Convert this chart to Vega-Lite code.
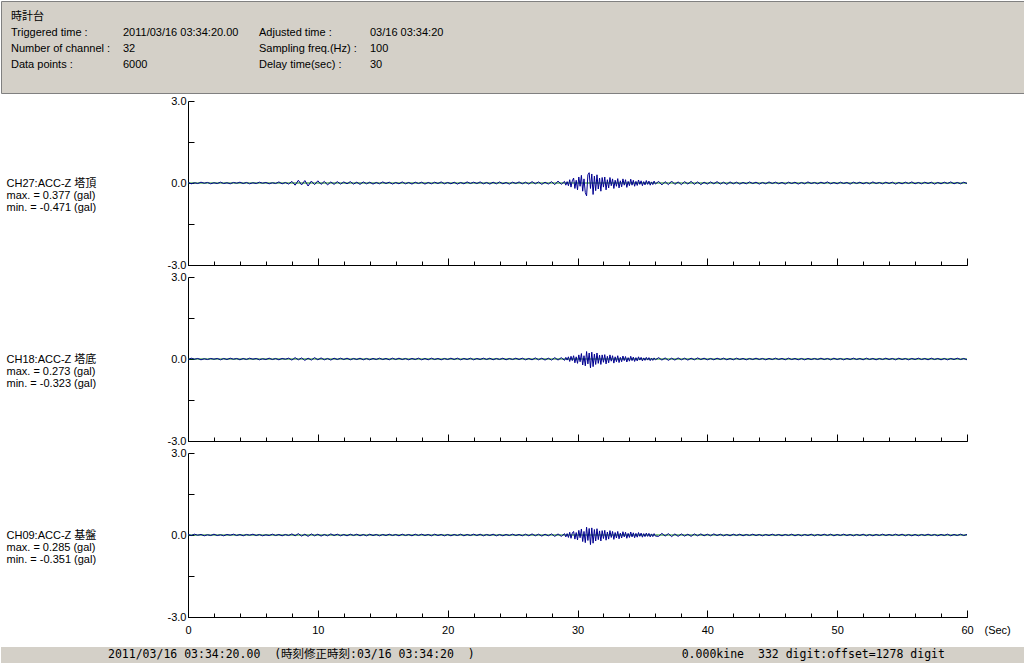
{
"$schema": "https://vega.github.io/schema/vega-lite/v6.json",
"padding": 0,
"background": "white",
"config": {
 "font": "'Liberation Sans', 'Noto Sans CJK JP', sans-serif",
 "view": {"stroke": null},
 "axis": {"domainColor": "#000000", "tickColor": "#000000", "labelColor": "#000000", "titleColor": "#000000", "labelFontSize": 11, "titleFontSize": 11, "titleFontWeight": "normal", "grid": false, "domainWidth": 1, "tickWidth": 1, "labelFont": "'Liberation Sans', sans-serif", "titleFont": "'Liberation Sans', 'Noto Sans CJK JP', sans-serif"},
 "text": {"color": "#000000"}
},
"datasets": {"w": [
{"t":0,"a":0.02,"b":-0.02,"c":0.02},
{"t":0.25,"a":-0.03,"b":0.03,"c":-0.02},
{"t":0.5,"a":0.01,"b":-0.01,"c":0.03},
{"t":0.75,"a":-0.02,"b":0.02,"c":-0.01},
{"t":1,"a":0.03,"b":-0.03,"c":0.02},
{"t":1.25,"a":-0.01,"b":0.01,"c":-0.03},
{"t":1.5,"a":0.02,"b":-0.02,"c":0.01},
{"t":1.75,"a":-0.03,"b":0.02,"c":-0.02},
{"t":2,"a":0.01,"b":-0.01,"c":0.03},
{"t":2.25,"a":-0.02,"b":0.02,"c":-0.02},
{"t":2.5,"a":0.03,"b":-0.03,"c":0.01},
{"t":2.75,"a":-0.02,"b":0.02,"c":-0.03},
{"t":3,"a":0.01,"b":-0.02,"c":0.02},
{"t":3.25,"a":-0.03,"b":0.03,"c":-0.01},
{"t":3.5,"a":0.02,"b":-0.01,"c":0.03},
{"t":3.75,"a":-0.01,"b":0.02,"c":-0.02},
{"t":4,"a":0.03,"b":-0.03,"c":0.02},
{"t":4.25,"a":-0.02,"b":0.02,"c":-0.03},
{"t":4.5,"a":0.02,"b":-0.02,"c":0.02},
{"t":4.75,"a":-0.03,"b":0.03,"c":-0.01},
{"t":5,"a":0.01,"b":-0.01,"c":0.03},
{"t":5.25,"a":-0.02,"b":0.02,"c":-0.02},
{"t":5.5,"a":0.03,"b":-0.03,"c":0.02},
{"t":5.75,"a":-0.01,"b":0.01,"c":-0.03},
{"t":6,"a":0.02,"b":-0.02,"c":0.01},
{"t":6.25,"a":-0.03,"b":0.03,"c":-0.02},
{"t":6.5,"a":0.01,"b":-0.02,"c":0.03},
{"t":6.75,"a":-0.02,"b":0.02,"c":-0.02},
{"t":7,"a":0.04,"b":-0.03,"c":0.02},
{"t":7.25,"a":-0.03,"b":0.02,"c":-0.03},
{"t":7.5,"a":0.02,"b":-0.01,"c":0.02},
{"t":7.75,"a":-0.04,"b":0.03,"c":-0.02},
{"t":8,"a":0.06,"b":-0.04,"c":0.04},
{"t":8.25,"a":-0.08,"b":0.05,"c":-0.03},
{"t":8.5,"a":0.1,"b":-0.03,"c":0.05},
{"t":8.75,"a":-0.07,"b":0.04,"c":-0.04},
{"t":9,"a":0.09,"b":-0.05,"c":0.03},
{"t":9.25,"a":-0.11,"b":0.03,"c":-0.05},
{"t":9.5,"a":0.07,"b":-0.04,"c":0.04},
{"t":9.75,"a":-0.06,"b":0.05,"c":-0.03},
{"t":10,"a":0.08,"b":-0.03,"c":0.03},
{"t":10.25,"a":-0.05,"b":0.04,"c":-0.04},
{"t":10.5,"a":0.06,"b":-0.03,"c":0.02},
{"t":10.75,"a":-0.07,"b":0.02,"c":-0.03},
{"t":11,"a":0.04,"b":-0.04,"c":0.04},
{"t":11.25,"a":-0.05,"b":0.03,"c":-0.02},
{"t":11.5,"a":0.05,"b":-0.02,"c":0.03},
{"t":11.75,"a":-0.04,"b":0.03,"c":-0.03},
{"t":12,"a":0.04,"b":-0.02,"c":0.02},
{"t":12.25,"a":-0.03,"b":0.03,"c":-0.03},
{"t":12.5,"a":0.05,"b":-0.03,"c":0.03},
{"t":12.75,"a":-0.04,"b":0.02,"c":-0.02},
{"t":13,"a":0.03,"b":-0.02,"c":0.03},
{"t":13.25,"a":-0.05,"b":0.03,"c":-0.03},
{"t":13.5,"a":0.04,"b":-0.03,"c":0.02},
{"t":13.75,"a":-0.03,"b":0.02,"c":-0.03},
{"t":14,"a":0.03,"b":-0.03,"c":0.03},
{"t":14.25,"a":-0.04,"b":0.02,"c":-0.02},
{"t":14.5,"a":0.02,"b":-0.02,"c":0.02},
{"t":14.75,"a":-0.03,"b":0.03,"c":-0.03},
{"t":15,"a":0.04,"b":-0.02,"c":0.02},
{"t":15.25,"a":-0.02,"b":0.02,"c":-0.02},
{"t":15.5,"a":0.03,"b":-0.03,"c":0.03},
{"t":15.75,"a":-0.04,"b":0.03,"c":-0.02},
{"t":16,"a":0.02,"b":-0.02,"c":0.02},
{"t":16.25,"a":-0.03,"b":0.03,"c":-0.03},
{"t":16.5,"a":0.04,"b":-0.02,"c":0.03},
{"t":16.75,"a":-0.03,"b":0.02,"c":-0.02},
{"t":17,"a":0.02,"b":-0.03,"c":0.02},
{"t":17.25,"a":-0.04,"b":0.02,"c":-0.03},
{"t":17.5,"a":0.03,"b":-0.02,"c":0.03},
{"t":17.75,"a":-0.02,"b":0.03,"c":-0.02},
{"t":18,"a":0.03,"b":-0.03,"c":0.03},
{"t":18.25,"a":-0.04,"b":0.02,"c":-0.02},
{"t":18.5,"a":0.02,"b":-0.03,"c":0.02},
{"t":18.75,"a":-0.03,"b":0.03,"c":-0.03},
{"t":19,"a":0.03,"b":-0.02,"c":0.03},
{"t":19.25,"a":-0.02,"b":0.02,"c":-0.02},
{"t":19.5,"a":0.04,"b":-0.03,"c":0.02},
{"t":19.75,"a":-0.03,"b":0.02,"c":-0.03},
{"t":20,"a":0.02,"b":-0.02,"c":0.02},
{"t":20.25,"a":-0.03,"b":0.03,"c":-0.03},
{"t":20.5,"a":0.03,"b":-0.02,"c":0.02},
{"t":20.75,"a":-0.04,"b":0.03,"c":-0.02},
{"t":21,"a":0.02,"b":-0.03,"c":0.03},
{"t":21.25,"a":-0.03,"b":0.02,"c":-0.03},
{"t":21.5,"a":0.04,"b":-0.02,"c":0.02},
{"t":21.75,"a":-0.02,"b":0.03,"c":-0.02},
{"t":22,"a":0.03,"b":-0.03,"c":0.03},
{"t":22.25,"a":-0.02,"b":0.02,"c":-0.02},
{"t":22.5,"a":0.04,"b":-0.02,"c":0.03},
{"t":22.75,"a":-0.03,"b":0.03,"c":-0.03},
{"t":23,"a":0.02,"b":-0.02,"c":0.02},
{"t":23.25,"a":-0.04,"b":0.03,"c":-0.02},
{"t":23.5,"a":0.03,"b":-0.03,"c":0.03},
{"t":23.75,"a":-0.03,"b":0.02,"c":-0.03},
{"t":24,"a":0.04,"b":-0.02,"c":0.02},
{"t":24.25,"a":-0.03,"b":0.03,"c":-0.03},
{"t":24.5,"a":0.02,"b":-0.03,"c":0.02},
{"t":24.75,"a":-0.04,"b":0.02,"c":-0.02},
{"t":25,"a":0.03,"b":-0.02,"c":0.03},
{"t":25.25,"a":-0.02,"b":0.03,"c":-0.02},
{"t":25.5,"a":0.04,"b":-0.02,"c":0.02},
{"t":25.75,"a":-0.03,"b":0.03,"c":-0.03},
{"t":26,"a":0.03,"b":-0.03,"c":0.03},
{"t":26.25,"a":-0.04,"b":0.02,"c":-0.03},
{"t":26.5,"a":0.05,"b":-0.03,"c":0.04},
{"t":26.75,"a":-0.03,"b":0.04,"c":-0.03},
{"t":27,"a":0.04,"b":-0.03,"c":0.03},
{"t":27.25,"a":-0.05,"b":0.03,"c":-0.04},
{"t":27.5,"a":0.03,"b":-0.04,"c":0.03},
{"t":27.75,"a":-0.04,"b":0.03,"c":-0.03},
{"t":28,"a":0.05,"b":-0.04,"c":0.04},
{"t":28.25,"a":-0.06,"b":0.05,"c":-0.05},
{"t":28.5,"a":0.07,"b":-0.04,"c":0.04},
{"t":28.75,"a":-0.05,"b":0.05,"c":-0.05},
{"t":29,"a":0.06,"b":-0.05,"c":0.05},
{"t":29.1,"a":-0.08,"b":0.06,"c":-0.07},
{"t":29.2,"a":0.05,"b":-0.04,"c":0.05},
{"t":29.3,"a":-0.1,"b":0.08,"c":-0.09},
{"t":29.4,"a":0.12,"b":-0.09,"c":0.1},
{"t":29.5,"a":-0.15,"b":0.1,"c":-0.12},
{"t":29.6,"a":0.08,"b":-0.06,"c":0.07},
{"t":29.7,"a":0.18,"b":0.12,"c":0.13},
{"t":29.8,"a":-0.2,"b":-0.14,"c":-0.15},
{"t":29.9,"a":0.1,"b":0.08,"c":0.09},
{"t":30,"a":-0.25,"b":-0.16,"c":-0.18},
{"t":30.1,"a":0.22,"b":0.15,"c":0.17},
{"t":30.2,"a":-0.12,"b":-0.1,"c":-0.1},
{"t":30.3,"a":0.28,"b":0.2,"c":0.22},
{"t":30.4,"a":-0.3,"b":-0.22,"c":-0.24},
{"t":30.5,"a":0.15,"b":0.12,"c":0.13},
{"t":30.6,"a":-0.35,"b":-0.25,"c":-0.28},
{"t":30.7,"a":-0.471,"b":0.273,"c":0.285},
{"t":30.8,"a":0.3,"b":-0.18,"c":-0.2},
{"t":30.9,"a":0.377,"b":0.22,"c":0.24},
{"t":31,"a":-0.2,"b":-0.323,"c":-0.351},
{"t":31.1,"a":0.33,"b":0.25,"c":0.26},
{"t":31.2,"a":-0.42,"b":-0.28,"c":-0.3},
{"t":31.3,"a":0.25,"b":0.18,"c":0.2},
{"t":31.4,"a":-0.28,"b":-0.2,"c":-0.22},
{"t":31.5,"a":0.3,"b":0.22,"c":0.23},
{"t":31.6,"a":-0.22,"b":-0.16,"c":-0.17},
{"t":31.7,"a":0.18,"b":0.14,"c":0.15},
{"t":31.8,"a":-0.3,"b":-0.2,"c":-0.22},
{"t":31.9,"a":0.2,"b":0.15,"c":0.16},
{"t":32,"a":-0.15,"b":-0.12,"c":-0.13},
{"t":32.1,"a":0.22,"b":0.16,"c":0.17},
{"t":32.2,"a":-0.25,"b":-0.18,"c":-0.19},
{"t":32.3,"a":0.12,"b":0.1,"c":0.11},
{"t":32.4,"a":-0.18,"b":-0.14,"c":-0.15},
{"t":32.5,"a":0.2,"b":0.15,"c":0.16},
{"t":32.6,"a":-0.1,"b":-0.08,"c":-0.09},
{"t":32.7,"a":0.15,"b":0.12,"c":0.13},
{"t":32.8,"a":-0.2,"b":-0.15,"c":-0.16},
{"t":32.9,"a":0.1,"b":0.08,"c":0.09},
{"t":33,"a":-0.12,"b":-0.1,"c":-0.11},
{"t":33.1,"a":0.16,"b":0.12,"c":0.13},
{"t":33.2,"a":-0.18,"b":-0.13,"c":-0.14},
{"t":33.3,"a":0.08,"b":0.06,"c":0.07},
{"t":33.4,"a":-0.14,"b":-0.1,"c":-0.11},
{"t":33.5,"a":0.15,"b":0.11,"c":0.12},
{"t":33.6,"a":-0.08,"b":-0.06,"c":-0.07},
{"t":33.7,"a":0.12,"b":0.09,"c":0.1},
{"t":33.8,"a":-0.16,"b":-0.11,"c":-0.12},
{"t":33.9,"a":0.06,"b":0.05,"c":0.06},
{"t":34,"a":-0.1,"b":-0.08,"c":-0.09},
{"t":34.1,"a":0.14,"b":0.1,"c":0.11},
{"t":34.2,"a":-0.08,"b":-0.06,"c":-0.07},
{"t":34.3,"a":0.1,"b":0.07,"c":0.08},
{"t":34.4,"a":-0.12,"b":-0.09,"c":-0.1},
{"t":34.5,"a":0.06,"b":0.05,"c":0.06},
{"t":34.6,"a":-0.09,"b":-0.07,"c":-0.08},
{"t":34.7,"a":0.11,"b":0.08,"c":0.09},
{"t":34.8,"a":-0.05,"b":-0.04,"c":-0.05},
{"t":34.9,"a":0.08,"b":0.06,"c":0.07},
{"t":35,"a":-0.1,"b":-0.07,"c":-0.08},
{"t":35.1,"a":0.05,"b":0.04,"c":0.05},
{"t":35.2,"a":-0.07,"b":-0.05,"c":-0.06},
{"t":35.3,"a":0.09,"b":0.06,"c":0.07},
{"t":35.4,"a":-0.05,"b":-0.04,"c":-0.05},
{"t":35.5,"a":0.07,"b":0.05,"c":0.06},
{"t":35.6,"a":-0.08,"b":-0.06,"c":-0.07},
{"t":35.7,"a":0.04,"b":0.03,"c":0.04},
{"t":35.8,"a":-0.06,"b":-0.05,"c":-0.06},
{"t":35.9,"a":0.07,"b":0.04,"c":0.05},
{"t":36,"a":-0.04,"b":-0.03,"c":-0.04},
{"t":36.25,"a":0.06,"b":0.05,"c":-0.05},
{"t":36.5,"a":-0.07,"b":-0.04,"c":0.06},
{"t":36.75,"a":0.05,"b":0.04,"c":-0.04},
{"t":37,"a":-0.06,"b":-0.05,"c":0.05},
{"t":37.25,"a":0.07,"b":0.03,"c":-0.06},
{"t":37.5,"a":-0.05,"b":-0.04,"c":0.04},
{"t":37.75,"a":0.04,"b":0.04,"c":-0.05},
{"t":38,"a":-0.06,"b":-0.03,"c":0.04},
{"t":38.25,"a":0.05,"b":0.03,"c":-0.04},
{"t":38.5,"a":-0.04,"b":-0.04,"c":0.03},
{"t":38.75,"a":0.06,"b":0.03,"c":-0.05},
{"t":39,"a":-0.05,"b":-0.03,"c":0.04},
{"t":39.25,"a":0.04,"b":0.04,"c":-0.03},
{"t":39.5,"a":-0.06,"b":-0.02,"c":0.04},
{"t":39.75,"a":0.03,"b":0.03,"c":-0.03},
{"t":40,"a":-0.04,"b":-0.03,"c":0.03},
{"t":40.25,"a":0.04,"b":0.02,"c":-0.03},
{"t":40.5,"a":-0.03,"b":-0.03,"c":0.04},
{"t":40.75,"a":0.05,"b":0.03,"c":-0.02},
{"t":41,"a":-0.04,"b":-0.02,"c":0.03},
{"t":41.25,"a":0.03,"b":0.03,"c":-0.03},
{"t":41.5,"a":-0.05,"b":-0.03,"c":0.02},
{"t":41.75,"a":0.04,"b":0.02,"c":-0.03},
{"t":42,"a":-0.03,"b":-0.03,"c":0.03},
{"t":42.25,"a":0.03,"b":0.03,"c":-0.02},
{"t":42.5,"a":-0.04,"b":-0.02,"c":0.03},
{"t":42.75,"a":0.02,"b":0.02,"c":-0.03},
{"t":43,"a":-0.03,"b":-0.03,"c":0.02},
{"t":43.25,"a":0.04,"b":0.02,"c":-0.02},
{"t":43.5,"a":-0.02,"b":-0.02,"c":0.03},
{"t":43.75,"a":0.03,"b":0.03,"c":-0.02},
{"t":44,"a":-0.04,"b":-0.02,"c":0.02},
{"t":44.25,"a":0.02,"b":0.02,"c":-0.03},
{"t":44.5,"a":-0.03,"b":-0.03,"c":0.02},
{"t":44.75,"a":0.04,"b":0.02,"c":-0.02},
{"t":45,"a":-0.02,"b":-0.02,"c":0.03},
{"t":45.25,"a":0.03,"b":0.03,"c":-0.02},
{"t":45.5,"a":-0.03,"b":-0.02,"c":0.02},
{"t":45.75,"a":0.02,"b":0.02,"c":-0.03},
{"t":46,"a":-0.04,"b":-0.03,"c":0.02},
{"t":46.25,"a":0.03,"b":0.03,"c":-0.02},
{"t":46.5,"a":-0.02,"b":-0.02,"c":0.03},
{"t":46.75,"a":0.03,"b":0.02,"c":-0.03},
{"t":47,"a":-0.04,"b":-0.03,"c":0.02},
{"t":47.25,"a":0.02,"b":0.02,"c":-0.03},
{"t":47.5,"a":-0.03,"b":-0.03,"c":0.02},
{"t":47.75,"a":0.04,"b":0.02,"c":-0.02},
{"t":48,"a":-0.02,"b":-0.02,"c":0.03},
{"t":48.25,"a":0.02,"b":0.02,"c":-0.03},
{"t":48.5,"a":-0.03,"b":-0.02,"c":0.02},
{"t":48.75,"a":0.03,"b":0.03,"c":-0.02},
{"t":49,"a":-0.02,"b":-0.02,"c":0.03},
{"t":49.25,"a":0.04,"b":0.02,"c":-0.02},
{"t":49.5,"a":-0.03,"b":-0.03,"c":0.03},
{"t":49.75,"a":0.02,"b":0.03,"c":-0.03},
{"t":50,"a":-0.03,"b":-0.02,"c":0.02},
{"t":50.25,"a":0.03,"b":0.02,"c":-0.02},
{"t":50.5,"a":-0.02,"b":-0.03,"c":0.03},
{"t":50.75,"a":0.02,"b":0.02,"c":-0.02},
{"t":51,"a":-0.04,"b":-0.02,"c":0.02},
{"t":51.25,"a":0.03,"b":0.03,"c":-0.03},
{"t":51.5,"a":-0.02,"b":-0.02,"c":0.02},
{"t":51.75,"a":0.03,"b":0.02,"c":-0.02},
{"t":52,"a":-0.03,"b":-0.03,"c":0.03},
{"t":52.25,"a":0.02,"b":0.03,"c":-0.03},
{"t":52.5,"a":-0.03,"b":-0.02,"c":0.02},
{"t":52.75,"a":0.04,"b":0.02,"c":-0.03},
{"t":53,"a":-0.02,"b":-0.03,"c":0.02},
{"t":53.25,"a":0.02,"b":0.02,"c":-0.02},
{"t":53.5,"a":-0.03,"b":-0.02,"c":0.03},
{"t":53.75,"a":0.03,"b":0.03,"c":-0.02},
{"t":54,"a":-0.02,"b":-0.02,"c":0.02},
{"t":54.25,"a":0.03,"b":0.02,"c":-0.02},
{"t":54.5,"a":-0.04,"b":-0.03,"c":0.03},
{"t":54.75,"a":0.02,"b":0.03,"c":-0.02},
{"t":55,"a":-0.03,"b":-0.02,"c":0.03},
{"t":55.25,"a":0.03,"b":0.02,"c":-0.03},
{"t":55.5,"a":-0.02,"b":-0.03,"c":0.02},
{"t":55.75,"a":0.04,"b":0.02,"c":-0.03},
{"t":56,"a":-0.03,"b":-0.02,"c":0.02},
{"t":56.25,"a":0.02,"b":0.03,"c":-0.03},
{"t":56.5,"a":-0.03,"b":-0.02,"c":0.02},
{"t":56.75,"a":0.03,"b":0.02,"c":-0.02},
{"t":57,"a":-0.02,"b":-0.03,"c":0.03},
{"t":57.25,"a":0.03,"b":0.03,"c":-0.02},
{"t":57.5,"a":-0.04,"b":-0.02,"c":0.02},
{"t":57.75,"a":0.02,"b":0.02,"c":-0.03},
{"t":58,"a":-0.03,"b":-0.03,"c":0.02},
{"t":58.25,"a":0.03,"b":0.02,"c":-0.02},
{"t":58.5,"a":-0.02,"b":-0.03,"c":0.03},
{"t":58.75,"a":0.04,"b":0.02,"c":-0.03},
{"t":59,"a":-0.03,"b":-0.02,"c":0.02},
{"t":59.25,"a":0.02,"b":0.03,"c":-0.02},
{"t":59.5,"a":-0.03,"b":-0.02,"c":0.03},
{"t":59.75,"a":0.03,"b":0.02,"c":-0.02},
{"t":60,"a":-0.02,"b":-0.03,"c":0.02}
]},
"concat": [
 {"concat": [
  {"width": 1024, "height": 92,
   "view": {"fill": "#d4d0c8", "stroke": "#808080"},
   "data": {"values": [
    {"k":"k","side":"L","r":0,"s":"時計台"},
    {"k":"k","side":"L","r":1,"s":"Triggered time :"},
    {"k":"v","side":"L","r":1,"s":"2011/03/16 03:34:20.00"},
    {"k":"k","side":"R","r":1,"s":"Adjusted time :"},
    {"k":"v","side":"R","r":1,"s":"03/16 03:34:20"},
    {"k":"k","side":"L","r":2,"s":"Number of channel :"},
    {"k":"v","side":"L","r":2,"s":"32"},
    {"k":"k","side":"R","r":2,"s":"Sampling freq.(Hz) :"},
    {"k":"v","side":"R","r":2,"s":"100"},
    {"k":"k","side":"L","r":3,"s":"Data points :"},
    {"k":"v","side":"L","r":3,"s":"6000"},
    {"k":"k","side":"R","r":3,"s":"Delay time(sec) :"},
    {"k":"v","side":"R","r":3,"s":"30"}
   ]},
   "layer": [
    {"transform": [{"filter": "datum.k == 'k'"}],
     "mark": {"type": "text", "align": "left", "baseline": "middle", "fontSize": 11},
     "encoding": {
      "x": {"field": "side", "type": "nominal", "scale": {"type": "point", "domain": ["L","R"], "range": [10, 258], "padding": 0}, "axis": null},
      "y": {"field": "r", "type": "ordinal", "scale": {"type": "point", "domain": [0,1,2,3], "range": [16, 64], "padding": 0}, "axis": null},
      "text": {"field": "s"}}},
    {"transform": [{"filter": "datum.k == 'v'"}],
     "mark": {"type": "text", "align": "left", "baseline": "middle", "fontSize": 11},
     "encoding": {
      "x": {"field": "side", "type": "nominal", "scale": {"type": "point", "domain": ["L","R"], "range": [122, 369], "padding": 0}, "axis": null},
      "y": {"field": "r", "type": "ordinal", "scale": {"type": "point", "domain": [0,1,2,3], "range": [16, 64], "padding": 0}, "axis": null},
      "text": {"field": "s"}}}
   ],
   "resolve": {"scale": {"x": "independent"}}
  },
  {"concat": [
   {"width": 187, "height": 164, "data": {"values": []}, "mark": {"type": "point"}},
   {"width": 779, "height": 164, "data": {"name": "w"},
    "layer": [
     {"mark": {"type": "line", "color": "#008000", "strokeWidth": 1},
      "encoding": {
       "x": {"field": "t", "type": "quantitative", "scale": {"domain": [0, 60], "nice": false, "zero": false},
             "axis": {"orient": "bottom", "values": [0,10,20,30,40,50,60], "labels": false, "tickSize": -7, "title": null, "domain": false}},
       "y": {"datum": 0, "type": "quantitative"}}},
     {"mark": {"type": "line", "color": "#000090", "strokeWidth": 1},
      "encoding": {
       "x": {"field": "t", "type": "quantitative",
             "axis": {"orient": "bottom", "values": [0,2,4,6,8,10,12,14,16,18,20,22,24,26,28,30,32,34,36,38,40,42,44,46,48,50,52,54,56,58,60], "labels": false, "tickSize": -4, "title": null, "domain": true}},
       "y": {"field": "a", "type": "quantitative", "scale": {"domain": [-3, 3], "nice": false, "zero": false},
             "axis": {"values": [-3,-1.5,0,1.5,3], "labelExpr": "datum.value == 3 ? '3.0' : datum.value == 0 ? '0.0' : datum.value == -3 ? '-3.0' : ''", "tickSize": -6, "labelPadding": 8, "labelFlush": false, "labelOverlap": false, "title": ["CH27:ACC-Z 塔頂", "max. = 0.377 (gal)", "min. = -0.471 (gal)"], "titleAngle": 0, "titleAlign": "left", "titleBaseline": "top", "titleX": -182, "titleY": 76, "titleLineHeight": 12}}}}
    ],
    "resolve": {"axis": {"x": "independent"}}},
   {"width": 187, "height": 164, "data": {"values": []}, "mark": {"type": "point"}},
   {"width": 779, "height": 164, "data": {"name": "w"},
    "layer": [
     {"mark": {"type": "line", "color": "#008000", "strokeWidth": 1},
      "encoding": {
       "x": {"field": "t", "type": "quantitative", "scale": {"domain": [0, 60], "nice": false, "zero": false},
             "axis": {"orient": "bottom", "values": [0,10,20,30,40,50,60], "labels": false, "tickSize": -7, "title": null, "domain": false}},
       "y": {"datum": 0, "type": "quantitative"}}},
     {"mark": {"type": "line", "color": "#000090", "strokeWidth": 1},
      "encoding": {
       "x": {"field": "t", "type": "quantitative",
             "axis": {"orient": "bottom", "values": [0,2,4,6,8,10,12,14,16,18,20,22,24,26,28,30,32,34,36,38,40,42,44,46,48,50,52,54,56,58,60], "labels": false, "tickSize": -4, "title": null, "domain": true}},
       "y": {"field": "b", "type": "quantitative", "scale": {"domain": [-3, 3], "nice": false, "zero": false},
             "axis": {"values": [-3,-1.5,0,1.5,3], "labelExpr": "datum.value == 3 ? '3.0' : datum.value == 0 ? '0.0' : datum.value == -3 ? '-3.0' : ''", "tickSize": -6, "labelPadding": 8, "labelFlush": false, "labelOverlap": false, "title": ["CH18:ACC-Z 塔底", "max. = 0.273 (gal)", "min. = -0.323 (gal)"], "titleAngle": 0, "titleAlign": "left", "titleBaseline": "top", "titleX": -182, "titleY": 76, "titleLineHeight": 12}}}}
    ],
    "resolve": {"axis": {"x": "independent"}}},
   {"width": 187, "height": 164, "data": {"values": []}, "mark": {"type": "point"}},
   {"width": 779, "height": 164, "data": {"name": "w"},
    "layer": [
     {"mark": {"type": "line", "color": "#008000", "strokeWidth": 1},
      "encoding": {
       "x": {"field": "t", "type": "quantitative", "scale": {"domain": [0, 60], "nice": false, "zero": false},
             "axis": {"orient": "bottom", "values": [0,10,20,30,40,50,60], "format": "d", "labels": true, "labelFlush": false, "labelPadding": 14, "tickSize": -7, "domain": false, "title": "(Sec)", "titleX": 796, "titleY": 13, "titleAlign": "left", "titleBaseline": "middle", "titleAngle": 0}},
       "y": {"datum": 0, "type": "quantitative"}}},
     {"mark": {"type": "line", "color": "#000090", "strokeWidth": 1},
      "encoding": {
       "x": {"field": "t", "type": "quantitative",
             "axis": {"orient": "bottom", "values": [0,2,4,6,8,10,12,14,16,18,20,22,24,26,28,30,32,34,36,38,40,42,44,46,48,50,52,54,56,58,60], "labels": false, "tickSize": -4, "title": null, "domain": true}},
       "y": {"field": "c", "type": "quantitative", "scale": {"domain": [-3, 3], "nice": false, "zero": false},
             "axis": {"values": [-3,-1.5,0,1.5,3], "labelExpr": "datum.value == 3 ? '3.0' : datum.value == 0 ? '0.0' : datum.value == -3 ? '-3.0' : ''", "tickSize": -6, "labelPadding": 8, "labelFlush": false, "labelOverlap": false, "title": ["CH09:ACC-Z 基盤", "max. = 0.285 (gal)", "min. = -0.351 (gal)"], "titleAngle": 0, "titleAlign": "left", "titleBaseline": "top", "titleX": -182, "titleY": 76, "titleLineHeight": 12}}}}
    ],
    "resolve": {"axis": {"x": "independent"}}}
  ], "columns": 2, "spacing": {"row": 12, "column": 0}, "bounds": "flush"}
 ], "columns": 1, "spacing": 1, "bounds": "full"},
 {"width": 1024, "height": 16,
  "view": {"fill": "#d4d0c8", "stroke": null},
  "data": {"values": [
   {"id": "d", "row": "bar", "s": "2011/03/16 03:34:20.00\u00a0\u00a0(時刻修正時刻:03/16 03:34:20\u00a0\u00a0)"},
   {"id": "k", "row": "bar", "s": "0.000kine"},
   {"id": "o", "row": "bar", "s": "332 digit:offset=1278 digit"}
  ]},
  "layer": [
   {"transform": [{"filter": "datum.id == 'd'"}],
    "mark": {"type": "text", "align": "left", "baseline": "middle", "font": "'DejaVu Sans Mono', 'Noto Sans CJK JP', monospace", "fontSize": 11.5},
    "encoding": {
     "x": {"field": "id", "type": "nominal", "scale": {"type": "point", "domain": ["d"], "range": [60, 154], "padding": 0}, "axis": null},
     "y": {"field": "row", "type": "nominal", "scale": {"type": "point", "range": [0, 16], "padding": 0}, "axis": null},
     "text": {"field": "s"}}},
   {"transform": [{"filter": "datum.id == 'k'"}],
    "mark": {"type": "text", "align": "right", "baseline": "middle", "font": "'DejaVu Sans Mono', monospace", "fontSize": 11.5},
    "encoding": {
     "x": {"field": "id", "type": "nominal", "scale": {"type": "point", "domain": ["k"], "range": [700, 786], "padding": 0}, "axis": null},
     "y": {"field": "row", "type": "nominal", "scale": {"type": "point", "range": [0, 16], "padding": 0}, "axis": null},
     "text": {"field": "s"}}},
   {"transform": [{"filter": "datum.id == 'o'"}],
    "mark": {"type": "text", "align": "left", "baseline": "middle", "font": "'DejaVu Sans Mono', monospace", "fontSize": 11.5},
    "encoding": {
     "x": {"field": "id", "type": "nominal", "scale": {"type": "point", "domain": ["o"], "range": [700, 814], "padding": 0}, "axis": null},
     "y": {"field": "row", "type": "nominal", "scale": {"type": "point", "range": [0, 16], "padding": 0}, "axis": null},
     "text": {"field": "s"}}}
  ],
  "resolve": {"scale": {"x": "independent"}}
 }
],
"columns": 1, "spacing": 12, "bounds": "full"
}
